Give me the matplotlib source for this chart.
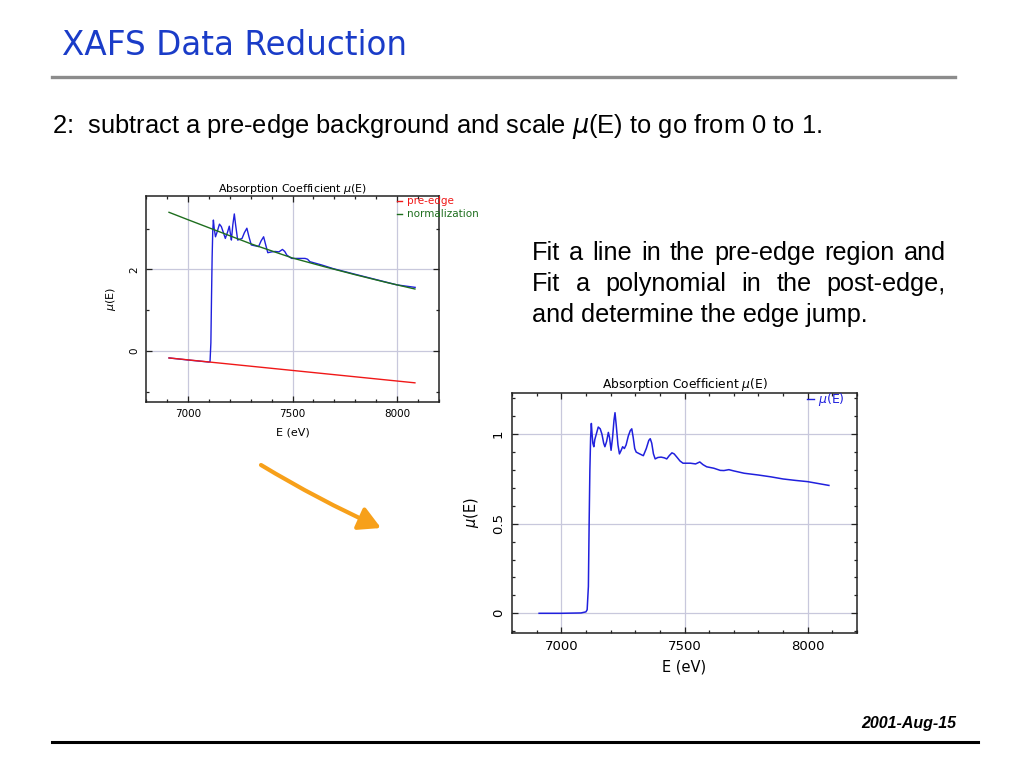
import matplotlib.pyplot as plt
from matplotlib.lines import Line2D
from matplotlib.patches import FancyArrowPatch
from matplotlib.ticker import MultipleLocator

W, H = 1024, 768

# raw absorption mu(E)
E_raw = [6910, 7000, 7100, 7106, 7110, 7113, 7116, 7119, 7122, 7126, 7132, 7140,
         7151, 7160, 7170, 7179, 7190, 7198, 7204, 7208, 7215, 7222, 7228, 7238,
         7248, 7259, 7270, 7282, 7292, 7303, 7320, 7338, 7350, 7362, 7372, 7382,
         7400, 7417, 7435, 7452, 7463, 7473, 7496, 7530, 7560, 7572, 7583, 7639,
         7694, 7800, 7900, 8000, 8086]
mu_raw = [-0.17, -0.22, -0.27, -0.26, 0.20, 1.30, 2.30, 2.95, 3.21, 3.00, 2.80, 2.92,
          3.11, 3.05, 2.90, 2.76, 2.92, 3.06, 2.85, 2.72, 3.10, 3.36, 3.10, 2.72,
          2.74, 2.76, 2.90, 3.01, 2.80, 2.60, 2.58, 2.56, 2.70, 2.80, 2.60, 2.41,
          2.43, 2.44, 2.43, 2.49, 2.44, 2.35, 2.27, 2.27, 2.27, 2.25, 2.19, 2.11,
          2.02, 1.88, 1.75, 1.62, 1.56]

# pre-edge line and post-edge normalization curve
E_pre = [6910, 8085]
mu_pre = [-0.17, -0.78]
E_post = [6910, 7000, 7127, 7300, 7500, 7650, 7800, 7950, 8085]
mu_post = [3.40, 3.22, 2.97, 2.63, 2.28, 2.07, 1.87, 1.68, 1.52]

# normalized mu(E)
E_norm = [6910, 7000, 7080, 7100, 7105, 7110, 7113, 7116, 7119, 7122, 7125, 7128,
          7132, 7136, 7142, 7150, 7158, 7165, 7172, 7177, 7184, 7191, 7196, 7202,
          7208, 7214, 7218, 7223, 7230, 7236, 7243, 7249, 7256, 7263, 7272, 7280,
          7286, 7292, 7298, 7304, 7318, 7333, 7345, 7355, 7361, 7367, 7374, 7381,
          7392, 7405, 7418, 7428, 7438, 7449, 7458, 7469, 7482, 7494, 7524, 7545,
          7562, 7575, 7590, 7619, 7645, 7660, 7680, 7700, 7742, 7800, 7850, 7900,
          7950, 8000, 8086]
mu_norm = [0.0, 0.0, 0.002, 0.008, 0.02, 0.15, 0.50, 0.80, 0.98, 1.06, 1.00, 0.95,
           0.93, 0.97, 1.00, 1.04, 1.03, 1.00, 0.95, 0.93, 0.96, 1.01, 0.98, 0.91,
           0.98, 1.08, 1.12, 1.05, 0.94, 0.89, 0.91, 0.93, 0.92, 0.94, 0.99, 1.02,
           1.03, 0.98, 0.92, 0.90, 0.89, 0.88, 0.92, 0.965, 0.975, 0.95, 0.89, 0.862,
           0.87, 0.872, 0.868, 0.862, 0.88, 0.896, 0.89, 0.872, 0.85, 0.838, 0.838, 0.834,
           0.845, 0.83, 0.818, 0.81, 0.798, 0.797, 0.802, 0.795, 0.782, 0.772, 0.762, 0.750,
           0.742, 0.735, 0.714]

BLUE = '#2020dd'
RED = '#f01818'
GREEN = '#1e6e1e'
GRID = '#c8c8dc'


def fx(px):
    return px / W


def fy(py):
    return 1 - py / H


def style_axes(ax, ymajor, yminor, fs, lfs, tfs, xpad, ypad):
    ax.set_xlim(6800, 8200)
    ax.xaxis.set_major_locator(MultipleLocator(500))
    ax.xaxis.set_minor_locator(MultipleLocator(100))
    ax.yaxis.set_major_locator(MultipleLocator(ymajor))
    ax.yaxis.set_minor_locator(MultipleLocator(yminor))
    ax.grid(True, which='major', color=GRID, lw=0.9)
    ax.set_axisbelow(True)
    ax.tick_params(which='both', direction='in', top=True, right=True,
                   labelsize=fs, color='#222222', width=0.9)
    ax.tick_params(which='major', length=4, pad=5)
    ax.tick_params(which='minor', length=2)
    for sp in ax.spines.values():
        sp.set_linewidth(1.1)
        sp.set_color('#222222')
    ax.set_xlabel('E (eV)', fontsize=lfs, labelpad=xpad)
    ax.set_ylabel(r'$\mu$(E)', fontsize=lfs, labelpad=ypad)
    ax.set_title(r'Absorption Coefficient $\mu$(E)', fontsize=tfs, pad=3)


def rotate_yticks(ax):
    for lab in ax.get_yticklabels():
        lab.set_rotation(90)
        lab.set_va('center')


fig = plt.figure(figsize=(10.24, 7.68), dpi=100)
plt.rcParams['font.family'] = ['DejaVu Sans']

# upper plot: raw data with pre-edge and normalization lines
ax1 = fig.add_axes([fx(146), fy(402), fx(293), 206 / H])
ax1.plot(E_raw, mu_raw, color=BLUE, lw=1.0)
ax1.plot(E_pre, mu_pre, color=RED, lw=1.0)
ax1.plot(E_post, mu_post, color=GREEN, lw=1.0)
ax1.set_ylim(-1.25, 3.8)
style_axes(ax1, 2, 1, 7.5, 8, 7.9, 6, 8)
ax1.set_yticks([0, 2])
rotate_yticks(ax1)
ax1.add_line(Line2D([0.855, 0.875], [0.975, 0.975], transform=ax1.transAxes,
                    color=RED, lw=1.0, clip_on=False))
ax1.text(0.892, 0.975, 'pre-edge', transform=ax1.transAxes, color=RED,
         fontsize=7.5, va='center', clip_on=False)
ax1.add_line(Line2D([0.855, 0.875], [0.912, 0.912], transform=ax1.transAxes,
                    color=GREEN, lw=1.0, clip_on=False))
ax1.text(0.892, 0.912, 'normalization', transform=ax1.transAxes, color=GREEN,
         fontsize=7.5, va='center', clip_on=False)

# lower plot: normalized data
ax2 = fig.add_axes([fx(512), fy(633), fx(345), 240 / H])
ax2.plot(E_norm, mu_norm, color=BLUE, lw=1.1)
ax2.set_ylim(-0.11, 1.23)
style_axes(ax2, 0.5, 0.1, 9.5, 10.5, 8.8, 5, 8)
ax2.set_yticks([0, 0.5, 1])
ax2.set_yticklabels(['0', '0.5', '1'])
rotate_yticks(ax2)
ax2.add_line(Line2D([0.856, 0.874], [0.975, 0.975], transform=ax2.transAxes,
                    color=BLUE, lw=1.0, clip_on=False))
ax2.text(0.888, 0.975, r'$\mu$(E)', transform=ax2.transAxes, color=BLUE,
         fontsize=9, va='center', clip_on=False)

# slide title and rules
fig.text(fx(62), fy(55), 'XAFS Data Reduction', fontsize=23.5, color='#1a3cc8',
         va='baseline')
fig.add_artist(Line2D([fx(52), fx(955)], [fy(77), fy(77)], color='#8c8c8c', lw=2.4))
fig.add_artist(Line2D([fx(52), fx(978)], [fy(742), fy(742)], color='black', lw=2.2))
fig.text(fx(956), fy(728), '2001-Aug-15', fontsize=11.5, fontweight='bold',
         fontstyle='italic', family='Liberation Sans', ha='right', va='baseline')

fig.text(fx(52), fy(133), r'2:  subtract a pre-edge background and scale $\mu$(E) to go from 0 to 1.',
         fontsize=18.4, family='Liberation Sans', va='baseline')

# justified paragraph on the right
lines = ['Fit a line in the pre-edge region and',
         'Fit a polynomial in the post-edge,',
         'and determine the edge jump.']
x0, x1 = 532, 946
baselines = [260, 291, 322]
renderer = fig.canvas.get_renderer()
for i, line in enumerate(lines):
    if i == len(lines) - 1:
        fig.text(fx(x0), fy(baselines[i]), line, fontsize=18.2,
                 family='Liberation Sans', va='baseline')
        continue
    words = line.split()
    texts = [fig.text(0, fy(baselines[i]), w, fontsize=18.2,
                      family='Liberation Sans', va='baseline') for w in words]
    widths = [t.get_window_extent(renderer).width for t in texts]
    gap = (x1 - x0 - sum(widths)) / (len(words) - 1)
    x = x0
    for t, wd in zip(texts, widths):
        t.set_x(fx(x))
        x += wd + gap

# orange arrow between the plots
arrow = FancyArrowPatch((fx(261), fy(465)), (fx(381), fy(528)),
                        transform=fig.transFigure, connectionstyle='arc3,rad=0.03',
                        arrowstyle='-|>,head_length=1.1,head_width=0.6',
                        mutation_scale=12, color='#f7a01a', lw=3, shrinkA=0, shrinkB=0)
fig.add_artist(arrow)

fig.savefig('out.png', dpi=100)
